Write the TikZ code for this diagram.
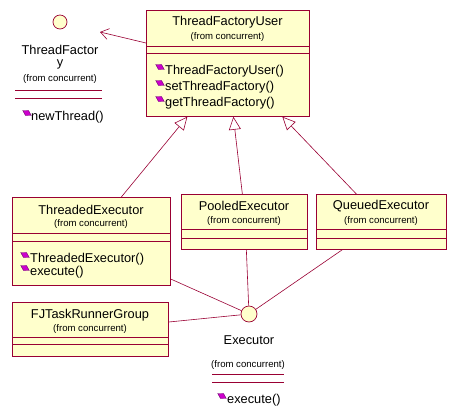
\documentclass[tikz,border=0pt]{standalone}
\usepackage{fontspec}
\setmainfont{Liberation Sans}
\usetikzlibrary{arrows.meta,shapes.geometric}
\definecolor{umlline}{HTML}{990033}
\definecolor{umlfill}{HTML}{FFFFCC}
\definecolor{opfill}{HTML}{CC00CC}
\definecolor{opedge}{HTML}{660066}
\begin{document}
\begin{tikzpicture}[x=1pt,y=-1pt,
  umlbox/.style={draw=umlline, fill=umlfill, line width=0.7pt, inner sep=0, anchor=north west},
  iface/.style={circle, draw=umlline, fill=umlfill, line width=0.7pt, inner sep=0},
  sepline/.style={draw=umlline, line width=0.7pt},
  conn/.style={draw=umlline, line width=0.6pt},
  nametext/.style={font=\fontsize{12.8}{14}\selectfont, inner sep=0},
  fromtext/.style={font=\fontsize{9.6}{11}\selectfont, inner sep=0},
  optext/.style={font=\fontsize{12.8}{14}\selectfont, inner sep=0, anchor=west},
  opicon/.style={diamond, draw=opedge, fill=opfill, line width=0.4pt, minimum width=10pt, minimum height=6pt, inner sep=0, rotate=-30},
  gen/.style={conn, -{Triangle[open, length=13pt, width=12pt, fill=white]}},
  dep/.style={conn, -{Straight Barb[length=8pt, width=11pt]}}
]
\useasboundingbox (0,0) rectangle (456,416);

% ThreadFactory interface
\node[iface, minimum size=14pt] (tf) at (60,22) {};
\node[nametext] (tfN1) at (60,50) {ThreadFactor};
\node[nametext] (tfN2) at (60,64) {y};
\node[fromtext] (tfF) at (60,79) {(from concurrent)};
\draw[sepline] (15,90) -- (102,90);
\draw[sepline] (15,98) -- (102,98);
\node[opicon] (tfo1) at (27,113) {};
\node[optext] (tfm1) at (31,117) {newThread()};
\coordinate (tfend) at (100,32);

% ThreadFactoryUser
\node[umlbox, minimum width=163pt, minimum height=106pt] (tfu) at (146,10) {};
\node[nametext] (tfuN) at (227.5,22) {ThreadFactoryUser};
\node[fromtext] (tfuF) at (227.5,37) {(from concurrent)};
\draw[sepline] ([yshift=-36pt]tfu.north west) -- ([yshift=-36pt]tfu.north east);
\draw[sepline] ([yshift=-43pt]tfu.north west) -- ([yshift=-43pt]tfu.north east);
\node[opicon] (tfuo1) at (160,67) {};
\node[optext] (tfum1) at (165,71) {ThreadFactoryUser()};
\node[opicon] (tfuo2) at (160,83) {};
\node[optext] (tfum2) at (165,87) {setThreadFactory()};
\node[opicon] (tfuo3) at (160,99) {};
\node[optext] (tfum3) at (165,103) {getThreadFactory()};

% ThreadedExecutor
\node[umlbox, minimum width=158pt, minimum height=88pt] (te) at (12,197) {};
\node[nametext] (teN) at (91,210) {ThreadedExecutor};
\node[fromtext] (teF) at (91,224) {(from concurrent)};
\draw[sepline] ([yshift=-36pt]te.north west) -- ([yshift=-36pt]te.north east);
\draw[sepline] ([yshift=-44pt]te.north west) -- ([yshift=-44pt]te.north east);
\node[opicon] (teo1) at (25,255) {};
\node[optext] (tem1) at (30,259) {ThreadedExecutor()};
\node[opicon] (teo2) at (25,268) {};
\node[optext] (tem2) at (30,272) {execute()};

% PooledExecutor
\node[umlbox, minimum width=126pt, minimum height=55pt] (pe) at (181,194) {};
\node[nametext] (peN) at (244,206) {PooledExecutor};
\node[fromtext] (peF) at (244,221) {(from concurrent)};
\draw[sepline] ([yshift=-35pt]pe.north west) -- ([yshift=-35pt]pe.north east);
\draw[sepline] ([yshift=-44pt]pe.north west) -- ([yshift=-44pt]pe.north east);

% QueuedExecutor
\node[umlbox, minimum width=130pt, minimum height=55pt] (qe) at (316,194) {};
\node[nametext] (qeN) at (381,206) {QueuedExecutor};
\node[fromtext] (qeF) at (381,221) {(from concurrent)};
\draw[sepline] ([yshift=-35pt]qe.north west) -- ([yshift=-35pt]qe.north east);
\draw[sepline] ([yshift=-44pt]qe.north west) -- ([yshift=-44pt]qe.north east);

% FJTaskRunnerGroup
\node[umlbox, minimum width=156pt, minimum height=54pt] (fj) at (12,302) {};
\node[nametext] (fjN) at (90,315) {FJTaskRunnerGroup};
\node[fromtext] (fjF) at (90,329) {(from concurrent)};
\draw[sepline] ([yshift=-35pt]fj.north west) -- ([yshift=-35pt]fj.north east);
\draw[sepline] ([yshift=-42pt]fj.north west) -- ([yshift=-42pt]fj.north east);

% Executor interface
\node[iface, minimum size=16pt] (ex) at (249,314) {};
\node[nametext] (exN) at (249,340) {Executor};
\node[fromtext] (exF) at (248,365) {(from concurrent)};
\draw[sepline] (212,374) -- (284,374);
\draw[sepline] (212,382) -- (284,382);
\node[opicon] (exo1) at (222,396) {};
\node[optext] (exm1) at (227,400) {execute()};

% connectors
\draw[dep] ([yshift=-33pt]tfu.north west) -- (tfend);
\draw[gen] ([xshift=30pt]te.north) -- ([xshift=-40.5pt]tfu.south);
\draw[gen] ([xshift=-2pt]pe.north) -- ([xshift=5.5pt]tfu.south);
\draw[gen] ([xshift=-25pt]qe.north) -- ([xshift=54.5pt]tfu.south);
\draw[conn] ([yshift=-82pt]te.north east) -- (ex);
\draw[conn] ([yshift=-20pt]fj.north east) -- (ex);
\draw[conn] ([xshift=2pt]pe.south) -- (ex);
\draw[conn] ([xshift=-39pt]qe.south) -- (ex);
\end{tikzpicture}
\end{document}
